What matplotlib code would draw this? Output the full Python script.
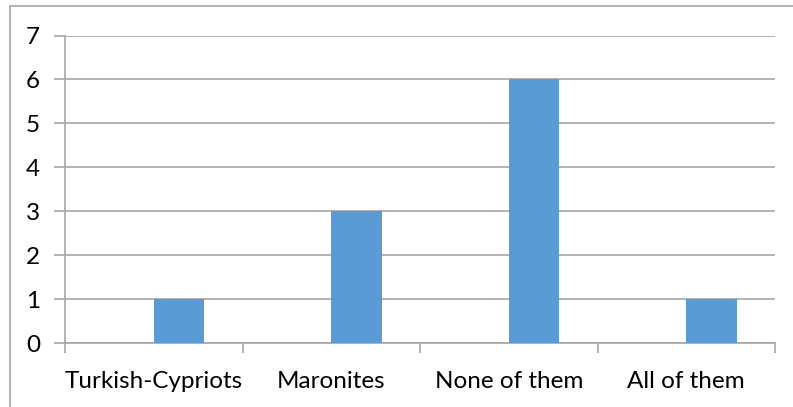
import matplotlib
matplotlib.use("Agg")
import matplotlib.pyplot as plt
from matplotlib.patches import Rectangle
import numpy as np

categories = ["Turkish-Cypriots", "Maronites", "None of them", "All of them"]
counts = [1, 3, 6, 1]
y_ticks = [0, 1, 2, 3, 4, 5, 6, 7]

W, H = 793, 407
fig = plt.figure(figsize=(W / 100, H / 100), dpi=100)
plt.rcParams["font.family"] = ["Lato", "DejaVu Sans"]

grid_col = "#a6a6a6"
bar_col = "#5b9bd5"
fs = 17.5

# outer chart frame
fig.add_artist(Rectangle((10 / W, -0.1), 1.2, 1 - 6 / H + 0.1, transform=fig.transFigure,
                         fill=False, edgecolor=grid_col, linewidth=1.2))

left, right = 65 / W, 775 / W
bottom, top = 1 - 343 / H, 1 - 35.5 / H
ax = fig.add_axes([left, bottom, right - left, top - bottom])

n = len(categories)
x = np.arange(n)
bw = 1 / 3.5
# bars sit in the right-hand slot of each category cluster
ax.bar(x + bw / 2, counts, width=bw, color=bar_col, zorder=3)

ax.set_xlim(-0.5, n - 0.5)
ax.set_ylim(0, 7)
ax.set_yticks(y_ticks)
ax.set_yticklabels([str(v) for v in y_ticks], fontsize=fs)
ax.yaxis.grid(True, color=grid_col, linewidth=1.2)
ax.set_axisbelow(True)

ax.set_xticks(np.arange(n + 1) - 0.5)
ax.set_xticklabels([])
ax.set_xticks(x, minor=True)
ax.set_xticklabels(categories, minor=True, fontsize=fs)
ax.tick_params(axis="x", which="major", length=7, width=1.2, color=grid_col, direction="out")
ax.tick_params(axis="x", which="minor", length=0, pad=20)
ax.tick_params(axis="y", length=8, width=1.2, color=grid_col, pad=10)

for s in ["top", "right"]:
    ax.spines[s].set_visible(False)
for s in ["left", "bottom"]:
    ax.spines[s].set_color(grid_col)
    ax.spines[s].set_linewidth(1.2)

fig.savefig("out.png", dpi=100)
